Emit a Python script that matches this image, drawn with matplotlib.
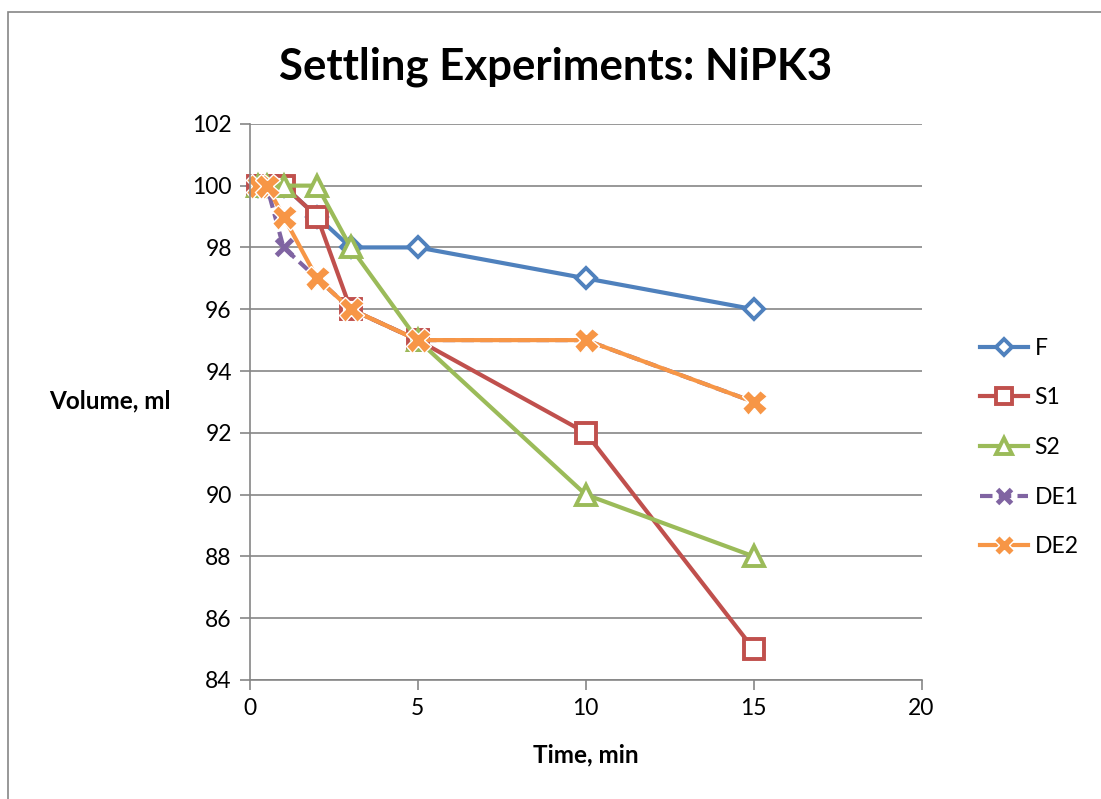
import matplotlib.pyplot as plt
from matplotlib.patches import Rectangle

plt.rcParams['font.family'] = ['Lato', 'DejaVu Sans']

# settling volume readings (ml) against time (min)
time_min = [0.25, 0.5, 1, 2, 3, 5, 10, 15]
vol_F = [100, 100, 100, 99, 98, 98, 97, 96]
vol_S1 = [100, 100, 100, 99, 96, 95, 92, 85]
vol_S2 = [100, 100, 100, 100, 98, 95, 90, 88]
vol_DE1 = [100, 100, 98, 97, 96, 95, 95, 93]
vol_DE2 = [100, 100, 99, 97, 96, 95, 95, 93]

fig = plt.figure(figsize=(11.01, 7.99), dpi=100)
ax = fig.add_axes([0.227, 0.149, 0.610, 0.696])

# chart-area border
fig.patches.append(Rectangle((8 / 1101, -0.05), 1.2, 1 - 12 / 799 + 0.05,
                             transform=fig.transFigure, fill=False,
                             edgecolor='#868686', linewidth=1.2))

lw = 3.0
ax.plot(time_min, vol_F, color='#4F81BD', lw=lw, marker='D', ms=10,
        mfc='white', mec='#4F81BD', mew=2.8, label='F', clip_on=False)
ax.plot(time_min, vol_S1, color='#C0504D', lw=lw, marker='s', ms=14,
        mfc='white', mec='#C0504D', mew=2.8, label='S1', clip_on=False)
ax.plot(time_min, vol_S2, color='#9BBB59', lw=lw, marker='^', ms=15,
        mfc='white', mec='#9BBB59', mew=2.8, label='S2', clip_on=False)
ax.plot(time_min, vol_DE1, color='#8064A2', lw=lw, ls=(0, (3, 1.5)), marker='x', ms=12,
        mec='#8064A2', mew=3.6, label='DE1', clip_on=False)
ax.plot(time_min, vol_DE2, color='#F79646', lw=lw, marker='X', ms=18,
        mfc='#F79646', mec='white', mew=1.0, label='DE2', clip_on=False)

ax.set_xlim(0, 20)
ax.set_ylim(84, 102)
ax.set_xticks(range(0, 21, 5))
ax.set_yticks(range(84, 103, 2))
ax.yaxis.grid(True, color='#868686', lw=1.2)
ax.set_axisbelow(True)
for side in ['top', 'right']:
    ax.spines[side].set_visible(False)
for side in ['left', 'bottom']:
    ax.spines[side].set_color('#868686')
    ax.spines[side].set_linewidth(1.2)
ax.tick_params(axis='both', colors='#868686', length=7, width=1.2,
               labelsize=16.5, labelcolor='black', pad=6)

fig.text(0.505, 0.917, 'Settling Experiments: NiPK3', fontsize=31.5,
         fontweight='bold', ha='center', va='center')
fig.text(0.100, 0.498, 'Volume, ml', fontsize=17.5, fontweight='bold',
         ha='center', va='center')
fig.text(0.532, 0.055, 'Time, min', fontsize=17.5, fontweight='bold',
         ha='center', va='center')

ax.legend(loc='center left', bbox_to_anchor=(0.871, 0.44),
          bbox_transform=fig.transFigure, frameon=False, fontsize=16.5,
          handlelength=2.1, handletextpad=0.3, labelspacing=1.25,
          markerscale=0.8)

fig.savefig('out.png', dpi=100)
